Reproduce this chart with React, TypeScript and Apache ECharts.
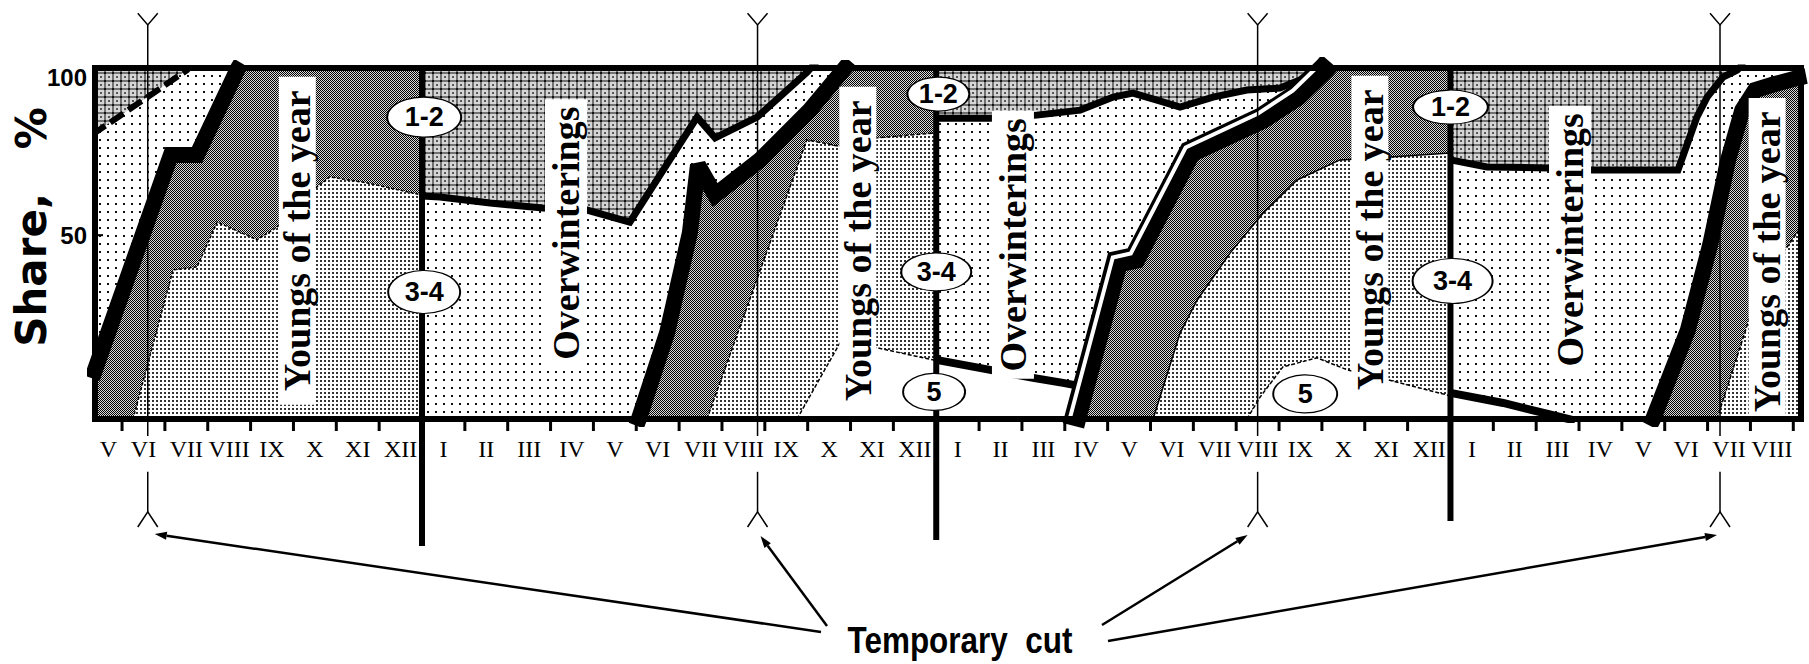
import React, { useEffect, useRef } from 'react';
import * as echarts from 'echarts';

type Pt = [number, number];

// ---------------- axes (x = months counted from 1 May of the first year) ----------------
const X_MIN = 0.369;
const X_MAX = 40.18;
const Y_MIN = -5;
const Y_MAX = 100;

const monthLabels = [
  'V', 'VI', 'VII', 'VIII', 'IX', 'X', 'XI', 'XII',
  'I', 'II', 'III', 'IV', 'V', 'VI', 'VII', 'VIII', 'IX', 'X', 'XI', 'XII',
  'I', 'II', 'III', 'IV', 'V', 'VI', 'VII', 'VIII', 'IX', 'X', 'XI', 'XII',
  'I', 'II', 'III', 'IV', 'V', 'VI', 'VII', 'VIII',
];
const shareTicks = [50, 100];
const yearBounds = [8, 20, 32];
const yearLineEnds = [-43, -41.2, -35.5];
const cutMonths = [1.6, 15.83, 27.5, 38.29];

// ---------------- year 1 boundaries ----------------
const y1Dashed: Pt[] = [[0.3, 80.0], [2.52, 99.4], [2.64, 101.5]];
const y1Thick: Pt[] = [[0.3, 7.2], [2.14, 74.0], [2.75, 74.0], [3.71, 100], [3.78, 101.5]];
const y1Stipple: Pt[] = [[1.256, -5], [2.19, 39.6], [2.75, 40.5], [3.22, 53.9], [3.75, 50.9], [4.15, 48.6], [4.62, 52.4], [5.55, 64.4], [5.85, 67.4], [6.72, 65.6], [8, 62.0]];

// ---------------- year 2 boundaries ----------------
const y2Upper: Pt[] = [[8, 61.7], [8.42, 61.4], [9.59, 59.6], [10.82, 58.1], [11.85, 57.5], [12.85, 53.9], [14.42, 85.3], [14.84, 79.1], [15.82, 85.3], [16.99, 98.8], [17.2, 101.8]];
const y2Thick: Pt[] = [[13.0, -7], [13.06, -5], [13.72, 20.8], [14.25, 50.6], [14.44, 71.0], [14.84, 62.0], [15.89, 72.5], [17.05, 87.4], [17.87, 100], [18.0, 102]];
const y2Dark: Pt[] = [[14.65, -5], [16.98, 78.5], [17.82, 76.4], [18.62, 79.1], [20, 80.6]];
const y2White: Pt[] = [[16.75, -5], [17.75, 17.7], [18.62, 16.3], [19.92, 12.7], [20, 12.4]];

// ---------------- year 3 boundaries ----------------
const y3Upper: Pt[] = [[20, 85.0], [21.26, 85.0], [22.35, 85.9], [23.36, 87.4], [24.13, 91.3], [24.59, 92.5], [25.15, 90.4], [25.69, 88.3], [26.46, 91.3], [27.25, 93.4], [28.02, 94.0], [28.49, 96.4], [28.84, 100], [28.95, 102]];
const y3Low: Pt[] = [[20, 12.7], [21.26, 9.7], [22.26, 7.3], [22.96, 5.8], [23.3, 5.0]];
const y3Thick: Pt[] = [[23.2, -7], [23.24, -5], [24.22, 42.0], [24.64, 43.2], [25.92, 74.9], [27.6, 85.0], [28.42, 91.9], [29.07, 100], [29.19, 101.8]];
const y3Dark: Pt[] = [[25.06, -5], [25.69, 20.7], [26.09, 30.6], [26.86, 44.7], [27.63, 56.6], [28.42, 66.5], [29.42, 72.5], [30.59, 73.4], [32, 74.6]];
const y3White: Pt[] = [[27.25, -5], [27.56, 1.6], [28.09, 10.6], [28.89, 13.3], [29.59, 9.7], [30.54, 6.7], [31.92, 2.2], [32, 1.6]];

// ---------------- year 4 boundaries ----------------
const y4Upper: Pt[] = [[32, 72.5], [32.85, 70.4], [34.32, 70.1], [35.26, 69.5], [37.31, 69.5], [37.75, 85.3], [37.99, 91.3], [38.36, 97.3], [38.69, 99.4], [38.85, 101.5]];
const y4Low: Pt[] = [[32, 2.8], [33.23, -0.2], [34.56, -4.4], [34.91, -5.5]];
const y4Thick: Pt[] = [[36.65, -7], [36.73, -5], [37.54, 21.6], [38.06, 47.1], [38.48, 72.5], [38.81, 87.4], [39.11, 93.4], [39.57, 95.2], [40.18, 97.3], [40.3, 97.6]];
const y4Dark: Pt[] = [[38.22, -5], [39.06, 28.5], [39.81, 45.6], [40.18, 52.4], [40.3, 54.0]];

// ---------------- annotations ----------------
const groupMarks: [number, number, string][] = [
  [8.05, 85.3, '1-2'], [8.05, 33.0, '3-4'],
  [20.05, 92.2, '1-2'], [20.0, 39.0, '3-4'], [19.95, 3.1, '5'],
  [32.0, 88.3, '1-2'], [32.05, 36.3, '3-4'], [28.61, 2.5, '5'],
];
const textBoxes: [number, number, string][] = [
  [5.09, 48.3, 'Youngs of the year'],
  [11.36, 50.6, 'Overwinterings'],
  [18.17, 45.3, 'Youngs of the year'],
  [21.79, 47.1, 'Overwinterings'],
  [30.12, 48.6, 'Youngs of the year'],
  [34.79, 48.6, 'Overwinterings'],
  [39.39, 42.0, 'Youngs of the year'],
];

// ---------------- styles ----------------
const GRID_LEFT = 95;
const GRID_TOP = 68;
const GRID_W = 1706;
const GRID_H = 351;
const TOP = 101.5;
const SANS = "'Liberation Sans', Arial, sans-serif";
const SERIF = "'Liberation Serif', 'Times New Roman', serif";
const groupSizes: [number, number][] = [[74, 40], [72, 43], [62, 34], [70, 38], [62, 37], [75, 34], [80, 45], [64, 38]];
const boxSize = (text: string): [number, number] => (text.startsWith('Y') ? [37, 328] : [42, 268]);

function tile(w: number, h: number, draw: (c: CanvasRenderingContext2D) => void) {
  const cv = document.createElement('canvas');
  cv.width = w;
  cv.height = h;
  const ctx = cv.getContext('2d') as CanvasRenderingContext2D;
  ctx.fillStyle = '#fff';
  ctx.fillRect(0, 0, w, h);
  draw(ctx);
  return { image: cv.toDataURL(), repeat: 'repeat', imageWidth: w, imageHeight: h } as any;
}

function buildOption() {
  const cross = tile(8, 8, (c) => {
    c.fillStyle = '#d6d6d6'; c.fillRect(0, 0, 8, 8);
    c.fillStyle = '#707070'; c.fillRect(0, 0, 8, 2); c.fillRect(0, 0, 2, 8);
    c.fillStyle = '#111'; c.fillRect(0, 0, 2, 2);
    c.fillStyle = '#555'; c.fillRect(4, 4, 2, 2);
  });
  const sparse = tile(8, 8, (c) => { c.fillStyle = '#111'; c.fillRect(3, 3, 2, 2); });
  const stipple = tile(4, 4, (c) => { c.fillStyle = '#333'; c.fillRect(0, 0, 2, 2); });
  const dark = tile(2, 2, (c) => {
    c.fillStyle = '#000'; c.fillRect(0, 0, 1, 1); c.fillRect(1, 1, 1, 1);
    c.fillStyle = '#d8d8d8'; c.fillRect(1, 0, 1, 1); c.fillRect(0, 1, 1, 1);
  });
  const white = '#ffffff';

  const fill = (pts: Pt[], color: any) => ({
    type: 'line', data: pts, symbol: 'none', silent: true, z: 1,
    emphasis: { disabled: true },
    lineStyle: { width: 0, opacity: 0 },
    areaStyle: { origin: 'start', color, opacity: 1 },
  });
  const stroke = (pts: Pt[], width: number, type: any = 'solid', color = '#000', z = 3, clip = true) => ({
    type: 'line', data: pts, symbol: 'none', silent: true, z, clip,
    emphasis: { disabled: true },
    lineStyle: { width, type, color, cap: 'butt', join: 'miter', miterLimit: 3 },
  });

  const fills = [
    fill([[0.2, TOP], [40.4, TOP]], cross),
    // year 1
    fill([...y1Dashed, [8, TOP]], sparse),
    fill([...y1Thick, [8, TOP]], dark),
    fill(y1Stipple, stipple),
    // year 2
    fill([...y2Upper, [20, TOP]], sparse),
    fill([...y2Thick, [20, TOP]], dark),
    fill(y2Dark, stipple),
    fill(y2White, white),
    // year 3
    fill([...y3Upper, [32, TOP]], sparse),
    fill([...y3Low, [23.45, 5.0]], white),
    fill([...y3Thick, [32, TOP]], dark),
    fill(y3Dark, stipple),
    fill(y3White, white),
    // year 4
    fill([...y4Upper, [40.4, TOP]], sparse),
    fill(y4Low, white),
    fill(y4Thick, dark),
    fill(y4Dark, stipple),
  ];

  const thin: any = [4, 2];
  const strokes = [
    stroke(y1Dashed, 6, [16, 6]),
    stroke(y1Thick, 16),
    stroke(y1Stipple, 1.5, [3, 2]),
    stroke(y2Upper, 7),
    stroke(y2Thick, 16),
    stroke(y2Dark, 1.5, thin),
    stroke(y2White, 1.5, thin),
    stroke(y3Upper, 7),
    stroke(y3Low, 8),
    stroke(y3Thick, 22),
    stroke(y3Thick.map(([t, v]) => [t - 0.1, v + 1.3] as Pt), 4, 'solid', '#fff'),
    stroke(y3Dark, 1.5),
    stroke(y3White, 1.5, thin),
    stroke(y4Upper, 7),
    stroke(y4Low, 8),
    stroke(y4Thick, 16),
    stroke(y4Dark, 1.5, thin),
  ];

  const years = yearBounds.map((t, i) => stroke([[t, Y_MAX], [t, yearLineEnds[i]]], 6, 'solid', '#000', 4, false));

  const FORK = 0.233;
  const cuts: any[] = [];
  cutMonths.forEach((t) => {
    cuts.push(stroke([[t - FORK, 116.4], [t, 112.9], [t + FORK, 116.4]], 1.5, 'solid', '#000', 5, false));
    cuts.push(stroke([[t, 112.9], [t, -10.1]], 1.5, 'solid', '#000', 5, false));
    cuts.push(stroke([[t, -20.8], [t, -32.8]], 1.5, 'solid', '#000', 5, false));
    cuts.push(stroke([[t - FORK, -37.3], [t, -32.8], [t + FORK, -37.3]], 1.5, 'solid', '#000', 5, false));
  });

  const marks = {
    type: 'scatter', z: 6, silent: true, clip: false,
    emphasis: { disabled: true },
    data: groupMarks.map((m) => [m[0], m[1]]),
    symbol: 'circle',
    symbolSize: (_v: any, p: any) => groupSizes[p.dataIndex],
    itemStyle: { color: '#fff', borderColor: '#000', borderWidth: 1.5, opacity: 1 },
    label: {
      show: true, position: 'inside',
      formatter: (p: any) => groupMarks[p.dataIndex][2],
      fontFamily: SANS, fontWeight: 'bold', fontSize: 27, color: '#000',
    },
  };
  const boxes = {
    type: 'scatter', z: 6, silent: true, clip: false,
    emphasis: { disabled: true },
    data: textBoxes.map((b) => [b[0], b[1]]),
    symbol: 'rect',
    symbolSize: (_v: any, p: any) => boxSize(textBoxes[p.dataIndex][2]),
    itemStyle: { color: '#fff', opacity: 1 },
    label: {
      show: true, position: 'inside', rotate: 90,
      formatter: (p: any) => textBoxes[p.dataIndex][2],
      fontFamily: SERIF, fontWeight: 'bold', fontSize: 38, color: '#000',
    },
  };

  const toPx = (t: number) => GRID_LEFT + ((t - X_MIN) / (X_MAX - X_MIN)) * GRID_W;
  const toPy = (v: number) => GRID_TOP + ((Y_MAX - v) / (Y_MAX - Y_MIN)) * GRID_H;
  const bottomPx = toPy(Y_MIN);

  // month ticks below the frame and the inner tick at 50 %
  const tickValues = monthLabels.map((_, i) => i + 1);
  const tickGraphics: any[] = tickValues.map((t) => ({
    type: 'line', z: 101, silent: true,
    shape: { x1: toPx(t), y1: bottomPx, x2: toPx(t), y2: bottomPx + 12 },
    style: { stroke: '#000', lineWidth: 3 },
  }));
  tickGraphics.push({
    type: 'line', z: 101, silent: true,
    shape: { x1: GRID_LEFT, y1: toPy(50), x2: GRID_LEFT + 8, y2: toPy(50) },
    style: { stroke: '#000', lineWidth: 2 },
  });

  const arrowDefs: { from: [number, number]; dx: number; y: number }[] = [
    { from: [821, 632], dx: 7, y: 534 },
    { from: [827, 626], dx: 3, y: 536 },
    { from: [1102, 625], dx: -10, y: 535 },
    { from: [1108, 641], dx: -3, y: 535 },
  ];
  const arrowGraphics: any[] = [];
  arrowDefs.forEach((a, i) => {
    const tx = toPx(cutMonths[i]) + a.dx;
    const ty = a.y;
    const [fx, fy] = a.from;
    const len = Math.hypot(tx - fx, ty - fy);
    const ux = (tx - fx) / len;
    const uy = (ty - fy) / len;
    const hl = 12;
    const hw = 4;
    const bx = tx - ux * hl;
    const by = ty - uy * hl;
    arrowGraphics.push({
      type: 'line', z: 100, silent: true,
      shape: { x1: fx, y1: fy, x2: bx, y2: by },
      style: { stroke: '#000', lineWidth: 2.5 },
    });
    arrowGraphics.push({
      type: 'polygon', z: 100, silent: true,
      shape: { points: [[tx, ty], [bx - uy * hw, by + ux * hw], [bx + uy * hw, by - ux * hw]] },
      style: { fill: '#000' },
    });
  });

  const labelValues = monthLabels.map((_, i) => (i === 0 ? 0.68 : i + 0.5));

  return {
    animation: false,
    backgroundColor: '#fff',
    grid: { left: GRID_LEFT, top: GRID_TOP, width: GRID_W, height: GRID_H, containLabel: false },
    xAxis: {
      type: 'value', min: X_MIN, max: X_MAX,
      axisLine: { show: false },
      splitLine: { show: false },
      axisTick: { show: false },
      axisLabel: {
        show: true, customValues: labelValues,
        formatter: (v: number) => monthLabels[Math.floor(v)] || '',
        margin: 18, fontFamily: SERIF, fontSize: 24, color: '#000',
      },
    },
    yAxis: {
      type: 'value', min: Y_MIN, max: Y_MAX,
      axisLine: { show: false },
      splitLine: { show: false },
      axisTick: { show: false },
      axisLabel: {
        show: true, customValues: shareTicks,
        formatter: (v: number) => (v === 100 ? '{top|100}' : String(v)),
        rich: { top: { padding: [18, 0, 0, 0], fontFamily: SANS, fontWeight: 'bold', fontSize: 24, color: '#000' } },
        margin: 8, fontFamily: SANS, fontWeight: 'bold', fontSize: 24, color: '#000',
      },
    },
    series: [...fills, ...strokes, ...years, ...cuts, marks, boxes],
    graphic: [
      {
        type: 'rect', z: 100, silent: true,
        shape: { x: GRID_LEFT, y: GRID_TOP, width: GRID_W, height: GRID_H },
        style: { fill: 'none', stroke: '#000', lineWidth: 6 },
      },
      ...tickGraphics,
      {
        type: 'text', z: 100, silent: true, x: 31, y: 227, rotation: Math.PI / 2,
        style: {
          text: 'Share,   %', fontFamily: "'DejaVu Sans', sans-serif", fontWeight: 'bold', fontSize: 42,
          fill: '#000', align: 'center', verticalAlign: 'middle',
        },
      },
      {
        type: 'text', z: 100, silent: true, x: 960, y: 640, scaleX: 0.85,
        style: {
          text: 'Temporary  cut', fontFamily: SANS, fontWeight: 'bold', fontSize: 37,
          fill: '#000', align: 'center', verticalAlign: 'middle',
        },
      },
      ...arrowGraphics,
    ],
  };
}

export default function App() {
  const ref = useRef<HTMLDivElement>(null);
  useEffect(() => {
    document.body.style.margin = '0';
    const chart = echarts.init(ref.current as HTMLDivElement, null, { renderer: 'svg' });
    chart.setOption(buildOption() as any);
    return () => chart.dispose();
  }, []);
  return <div ref={ref} style={{ width: 1809, height: 664 }} />;
}
